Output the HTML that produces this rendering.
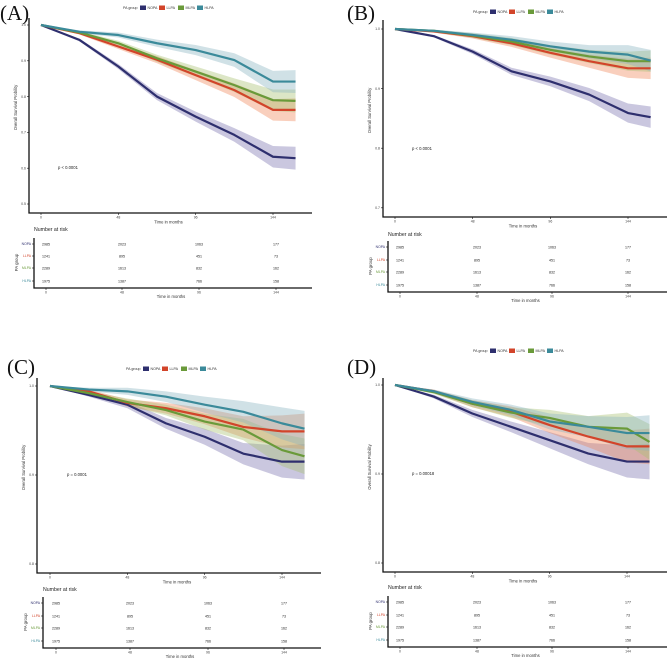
<!DOCTYPE html>
<html><head><meta charset="utf-8">
<style>
html,body{margin:0;padding:0;background:#fff;}
svg{display:block;font-family:"Liberation Sans",sans-serif;}
</style></head>
<body>
<svg id="fig" width="669" height="662" viewBox="0 0 669 662" xmlns="http://www.w3.org/2000/svg"></svg>
<script>
const groups = ["NOPA","LLPA","MLPA","HLPA"];
const months = [0,24,48,72,96,120,144,158];
const xTickLabels = [0,48,96,144];
const riskNOPA = [2985,2023,1063,177];
const riskLLPA = [1241,895,451,73];
const riskMLPA = [2289,1613,832,162];
const riskHLPA = [1975,1387,766,158];

const A_NOPA=[1,0.958,0.884,0.80,0.744,0.693,0.632,0.628];
const A_LLPA=[1,0.977,0.940,0.903,0.860,0.818,0.763,0.763];
const A_MLPA=[1,0.979,0.949,0.907,0.870,0.832,0.790,0.788];
const A_HLPA=[1,0.981,0.972,0.949,0.930,0.902,0.842,0.842];
const B_NOPA=[1,0.988,0.962,0.929,0.912,0.890,0.859,0.852];
const B_LLPA=[1,0.996,0.988,0.976,0.960,0.946,0.934,0.934];
const B_MLPA=[1,0.997,0.989,0.979,0.965,0.954,0.946,0.946];
const B_HLPA=[1,0.997,0.990,0.982,0.971,0.962,0.957,0.947];
const C_NOPA=[1,0.990,0.979,0.958,0.943,0.924,0.915,0.915];
const C_LLPA=[1,0.994,0.981,0.975,0.966,0.954,0.949,0.949];
const C_MLPA=[1,0.992,0.982,0.973,0.960,0.951,0.928,0.921];
const C_HLPA=[1,0.996,0.994,0.988,0.979,0.971,0.958,0.952];
const D_NOPA=[1,0.987,0.968,0.953,0.938,0.923,0.914,0.914];
const D_LLPA=[1,0.993,0.979,0.970,0.955,0.942,0.931,0.931];
const D_MLPA=[1,0.992,0.979,0.969,0.963,0.953,0.951,0.936];
const D_HLPA=[1,0.993,0.981,0.972,0.959,0.953,0.946,0.946];
const ciA=[0,0.004,0.007,0.010,0.014,0.019,0.030,0.032];
const ciB=[0,0.002,0.004,0.006,0.008,0.011,0.016,0.018];
const ciC=[0,0.002,0.004,0.006,0.009,0.012,0.018,0.020];
const ciD=[0,0.002,0.004,0.006,0.009,0.012,0.018,0.020];
const pTexts=["p < 0.0001","p < 0.0001","p = 0.0001","p = 0.00018"];

const lineCol={NOPA:"#2e2f6e",LLPA:"#d2442a",MLPA:"#6a9a3a",HLPA:"#3b8a9a"};
const bandCol={NOPA:"#7b74b0",LLPA:"#f0875a",MLPA:"#a8c070",HLPA:"#8ab5c0"};

const panels=[
 {lab:"(A)",labX:0,labY:20,data:[A_NOPA,A_LLPA,A_MLPA,A_HLPA],ci:ciA,p:pTexts[0],
  ax:29,ay:213,ar:312,at:18,x0:41,x144:273,yTop:1.0,yTopPx:25,yPer:35.8,yticks:[1.0,0.9,0.8,0.7,0.6,0.5],
  legX:175,legY:8,pX:58,pY:169,
  tblTitleY:231,tblX:34,rows:[244,256,268,281],tblAxY:288,cols:[46,122,199,276]},
 {lab:"(B)",labX:347,labY:20,data:[B_NOPA,B_LLPA,B_MLPA,B_HLPA],ci:ciB,p:pTexts[1],
  ax:383,ay:217,ar:667,at:20,x0:395,x144:628,yTop:1.0,yTopPx:29,yPer:59.6,yticks:[1.0,0.9,0.8,0.7],
  legX:525,legY:12,pX:412,pY:150,
  tblTitleY:236,tblX:388,rows:[247,260,272,285],tblAxY:292,cols:[400,477,552,628]},
 {lab:"(C)",labX:7,labY:374,data:[C_NOPA,C_LLPA,C_MLPA,C_HLPA],ci:ciC,p:pTexts[2],
  ax:37,ay:573,ar:321,at:378,x0:50,x144:282,yTop:1.0,yTopPx:386,yPer:89,yticks:[1.0,0.9,0.8],
  legX:178,legY:369,pX:67,pY:476,
  tblTitleY:591,tblX:43,rows:[603,616,628,641],tblAxY:648,cols:[56,130,208,284]},
 {lab:"(D)",labX:347,labY:374,data:[D_NOPA,D_LLPA,D_MLPA,D_HLPA],ci:ciD,p:pTexts[3],
  ax:383,ay:572,ar:667,at:378,x0:395,x144:627,yTop:1.0,yTopPx:385,yPer:89,yticks:[1.0,0.9,0.8],
  legX:525,legY:351,pX:412,pY:475,
  tblTitleY:589,tblX:388,rows:[602,615,627,640],tblAxY:647,cols:[400,477,552,628]}
];
const risks=[riskNOPA,riskLLPA,riskMLPA,riskHLPA];
const NS="http://www.w3.org/2000/svg";
const svg=document.getElementById("fig");
function el(tag,attrs,parent,text){const e=document.createElementNS(NS,tag);for(const k in attrs)e.setAttribute(k,attrs[k]);if(text!==undefined)e.textContent=text;(parent||svg).appendChild(e);return e;}

panels.forEach((P,pi)=>{
  const g=el("g",{});
  
  
  const xs=m=>P.x0+(m/144)*(P.x144-P.x0);
  const ys=v=>P.yTopPx+(P.yTop-v)/0.1*P.yPer;
  const t=el("text",{x:P.labX,y:P.labY,"font-size":"21","font-family":"Liberation Serif, serif",fill:"#111"},g,P.lab);
  
  
  // legend
  const lg=el("g",{},g);
  
  
  let lx=P.legX-52;
  el("text",{x:lx,y:P.legY+1.2,"font-size":"3.6",fill:"#333"},lg,"PA group");
  lx+=17;
  groups.forEach(gn=>{
    const r=el("rect",{x:lx,y:P.legY-2.5,width:6,height:4.5,fill:lineCol[gn]},lg);
    
    
    el("text",{x:lx+7.5,y:P.legY+1.2,"font-size":"3.6",fill:"#333"},lg,gn);
    lx+=19;
  });
  // bands
  P.data.forEach((vals,si)=>{
    const gn=groups[si];
    let up=vals.map((v,i)=>xs(months[i])+","+ys(Math.min(1,v+P.ci[i])));
    let dn=vals.map((v,i)=>xs(months[i])+","+ys(v-P.ci[i])).reverse();
    const b=el("polygon",{points:up.concat(dn).join(" "),fill:bandCol[gn],"fill-opacity":"0.4"},g);
    
    
  });
  P.data.forEach((vals,si)=>{
    const gn=groups[si];
    const l=el("polyline",{points:vals.map((v,i)=>xs(months[i])+","+ys(v)).join(" "),fill:"none",stroke:lineCol[gn],"stroke-width":"2.2","stroke-linejoin":"round"},g);
    
    
  });
  // axes
  const axl=el("path",{d:`M${P.ax},${P.at}V${P.ay}H${P.ar}`,stroke:"#111","stroke-width":"1.3",fill:"none"},g);
  
  
  P.yticks.forEach(v=>{
    const y=ys(v);
    el("line",{x1:P.ax-2,x2:P.ax,y1:y,y2:y,stroke:"#111","stroke-width":"0.6"},g);
    const tl=el("text",{x:P.ax-3,y:y+1.2,"font-size":"3.5","text-anchor":"end",fill:"#444"},g,v.toFixed(1));
    
    
  });
  xTickLabels.forEach(m=>{
    const x=xs(m);
    el("line",{x1:x,x2:x,y1:P.ay,y2:P.ay+2,stroke:"#111","stroke-width":"0.6"},g);
    const tl=el("text",{x:x,y:P.ay+5.5,"font-size":"3.5","text-anchor":"middle",fill:"#444"},g,m);
    
    
  });
  const xt=el("text",{x:(P.ax+P.ar)/2-2,y:P.ay+10.5,"font-size":"4.2","text-anchor":"middle",fill:"#333"},g,"Time in months");
  
  
  const ym=(P.at+P.ay)/2-8;
  const yt=el("text",{x:P.ax-12,y:ym,"font-size":"4.2","text-anchor":"middle",fill:"#333",transform:`rotate(-90 ${P.ax-12} ${ym})`},g,"Overall Survival Probility");
  
  
  const pt=el("text",{x:P.pX,y:P.pY,"font-size":"4.2",fill:"#222"},g,P.p);
  
  
  // risk table
  const tg=el("g",{},g);
  
  
  el("text",{x:P.tblX,y:P.tblTitleY,"font-size":"5.2",fill:"#222"},tg,"Number at risk");
  el("path",{d:`M${P.tblX},${P.rows[0]-6}V${P.tblAxY}H${P.ar}`,stroke:"#111","stroke-width":"1.3",fill:"none"},tg);
  P.rows.forEach((ry,ri)=>{
    const gn=groups[ri];
    el("line",{x1:P.tblX-2,x2:P.tblX,y1:ry,y2:ry,stroke:"#111","stroke-width":"0.6"},tg);
    el("text",{x:P.tblX-3,y:ry+1.2,"font-size":"3.4","text-anchor":"end",fill:lineCol[gn]},tg,gn);
    risks[ri].forEach((n,ci)=>{
      const c=el("text",{x:P.cols[ci],y:ry+1.3,"font-size":"3.6","text-anchor":"middle",fill:"#222"},tg,n);
      
      
    });
  });
  xTickLabels.forEach((m,ci)=>{
    el("line",{x1:P.cols[ci],x2:P.cols[ci],y1:P.tblAxY,y2:P.tblAxY+2,stroke:"#111","stroke-width":"0.6"},tg);
    el("text",{x:P.cols[ci],y:P.tblAxY+5.5,"font-size":"3.5","text-anchor":"middle",fill:"#444"},tg,m);
  });
  el("text",{x:(P.tblX+P.ar)/2-2,y:P.tblAxY+10,"font-size":"4.2","text-anchor":"middle",fill:"#333"},tg,"Time in months");
  const my=(P.rows[0]+P.rows[3])/2;
  el("text",{x:P.tblX-16,y:my,"font-size":"4.4","text-anchor":"middle",fill:"#333",transform:`rotate(-90 ${P.tblX-16} ${my})`},tg,"PA group");
});
</script>
</body></html>
